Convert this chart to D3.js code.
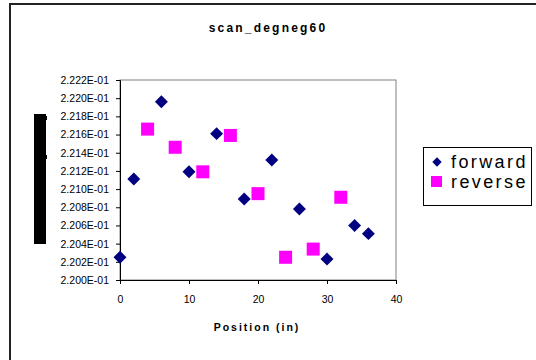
<!DOCTYPE html>
<html><head><meta charset="utf-8">
<script src="https://cdn.jsdelivr.net/npm/d3@7"></script>
<style>body{margin:0;background:#fff}svg{display:block}</style>
</head><body>
<svg id="c" width="536" height="360"></svg>
<script>
const title = "scan_degneg60";
const xTitle = "Position (in)";
const seriesNames = ["forward", "reverse"];
const forwardX = [0, 2, 6, 10, 14, 18, 22, 26, 30, 34, 36];
const forwardY = [0.22025, 0.22111, 0.22196, 0.22119, 0.22161, 0.22089, 0.22132, 0.22078, 0.22023, 0.22060, 0.22051];
const reverseX = [4, 8, 12, 16, 20, 24, 28, 32];
const reverseY = [0.22166, 0.22146, 0.22119, 0.22159, 0.22095, 0.22025, 0.22034, 0.22091];
const xTicks = [0, 10, 20, 30, 40];
const yTicks = [0.2200, 0.2202, 0.2204, 0.2206, 0.2208, 0.2210, 0.2212, 0.2214, 0.2216, 0.2218, 0.2220, 0.2222];

const svg = d3.select("#c");
const font = "'Liberation Sans', Arial, sans-serif";
const L = 120, R = 396, T = 80, B = 280;
const x = d3.scaleLinear().domain([0, 40]).range([L, R]);
const y = d3.scaleLinear().domain([0.2200, 0.2222]).range([B, T]);

// outer frame
svg.append("path").attr("d", "M10,370 V4 H546").attr("fill", "none").attr("stroke", "#222").attr("stroke-width", 2);

// title
svg.append("text").attr("x", 268).attr("y", 32).attr("text-anchor", "middle")
  .attr("font-family", font).attr("font-size", 12).attr("font-weight", "bold")
  .attr("letter-spacing", 2.2).text(title);

// y axis title block (rendered as a black bar in the reference)
svg.append("rect").attr("x", 34).attr("y", 114).attr("width", 12).attr("height", 130).attr("fill", "#000");
svg.append("rect").attr("x", 46).attr("y", 116).attr("width", 1).attr("height", 4).attr("fill", "#000");
svg.append("rect").attr("x", 46).attr("y", 155).attr("width", 1).attr("height", 4).attr("fill", "#000");

// plot border
svg.append("rect").attr("x", L).attr("y", T).attr("width", R - L).attr("height", B - T)
  .attr("fill", "none").attr("stroke", "#808080").attr("stroke-width", 1);

// y axis
const ya = svg.append("g").attr("transform", `translate(${L},0)`)
  .call(d3.axisLeft(y).tickValues(yTicks).tickSize(4).tickPadding(7)
    .tickFormat(d => d3.format(".3f")(d * 10) + "E-01"));
ya.select(".domain").attr("stroke", "#000");
ya.selectAll("line").attr("stroke", "#000");
ya.selectAll("text").attr("font-family", font).attr("font-size", 10.5).attr("fill", "#000");

// x axis
const xa = svg.append("g").attr("transform", `translate(0,${B})`)
  .call(d3.axisBottom(x).tickValues(xTicks).tickSize(4).tickPadding(12));
xa.select(".domain").attr("stroke", "#000");
xa.selectAll("line").attr("stroke", "#000");
xa.selectAll("text").attr("font-family", font).attr("font-size", 10.5).attr("fill", "#000");

svg.append("text").attr("x", 257).attr("y", 331).attr("text-anchor", "middle")
  .attr("font-family", font).attr("font-size", 10.5).attr("font-weight", "bold")
  .attr("letter-spacing", 2).text(xTitle);

// markers
const fwd = forwardX.map((v, i) => [v, forwardY[i]]);
const rev = reverseX.map((v, i) => [v, reverseY[i]]);
svg.append("g").selectAll("path").data(fwd).join("path")
  .attr("d", d3.symbol().type(d3.symbolSquare).size(84)())
  .attr("transform", d => `translate(${x(d[0])},${y(d[1])}) rotate(45)`)
  .attr("fill", "#000080");
svg.append("g").selectAll("rect").data(rev).join("rect")
  .attr("x", d => x(d[0]) - 6.5).attr("y", d => y(d[1]) - 6.5)
  .attr("width", 13).attr("height", 13).attr("fill", "#FF00FF");

// legend
const lg = svg.append("g");
lg.append("rect").attr("x", 423.5).attr("y", 147.5).attr("width", 108).attr("height", 58)
  .attr("fill", "#fff").attr("stroke", "#000").attr("stroke-width", 1);
lg.append("path").attr("d", d3.symbol().type(d3.symbolSquare).size(44)())
  .attr("transform", "translate(437,162) rotate(45)").attr("fill", "#000080");
lg.append("rect").attr("x", 431).attr("y", 176).attr("width", 11).attr("height", 11).attr("fill", "#FF00FF");
lg.selectAll("text").data(seriesNames).join("text")
  .attr("x", 451).attr("y", (d, i) => 168 + i * 20)
  .attr("font-family", font).attr("font-size", 18).attr("letter-spacing", 2.4)
  .attr("fill", "#000").text(d => d);
</script>
</body></html>
